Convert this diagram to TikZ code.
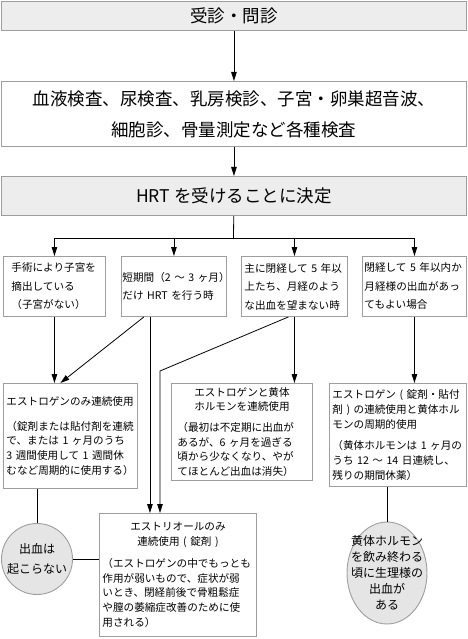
\documentclass[tikz,border=0pt]{standalone}
\usepackage{fontspec}
\setmainfont{Noto Sans CJK JP}
\usepackage{tikz}
\usetikzlibrary{arrows.meta,shapes.geometric}
\definecolor{gOne}{gray}{0.93}
\definecolor{gTwo}{gray}{0.90}
\definecolor{gEdge}{gray}{0.62}
\tikzset{
  bigbox/.style={rectangle, draw=gEdge, line width=0.9pt, anchor=north west, align=center, inner sep=0pt, minimum width=465pt, font=\fontsize{17.5}{31}\selectfont},
  casebox/.style={rectangle, draw=gEdge, line width=0.9pt, anchor=north west, align=left, inner ysep=0pt, minimum height=60pt, font=\fontsize{10.6}{18.5}\selectfont},
  drugbox/.style={rectangle, draw=gEdge, line width=0.9pt, anchor=north west, align=left, inner ysep=0pt, font=\fontsize{10.6}{14.7}\selectfont},
  result/.style={ellipse, draw=gEdge, line width=0.9pt, fill=gTwo, align=center, inner sep=-10pt, font=\fontsize{12}{16}\selectfont},
  arrow/.style={-{Triangle[length=9pt,width=5.5pt]}, line width=0.8pt},
  link/.style={line width=0.8pt}
}
\begin{document}
\begin{tikzpicture}[x=1pt,y=-1pt]
  \useasboundingbox (0,0) rectangle (467,639);
  \node[bigbox, fill=gOne, minimum height=29pt] (visit) at (1,1) {受診・問診};
  \node[bigbox, minimum height=65pt] (tests) at (1,81) {血液検査、尿検査、乳房検診、子宮・卵巣超音波、\\細胞診、骨量測定など各種検査};
  \node[bigbox, fill=gOne, minimum height=39pt] (decide) at (1,176) {HRT を受けることに決定};
  \node[casebox, text width=86pt, inner xsep=8pt] (caseA) at (3,256) {手術により子宮を\\摘出している\\（子宮がない）};
  \node[casebox, text width=103pt, inner xsep=1pt] (caseB) at (121,256) {短期間（2~～~3~ヶ月）\\だけ~HRT~を行う時};
  \node[casebox, text width=100pt, inner xsep=3pt] (caseC) at (241,256) {主に閉経して~5~年以\\上たち、月経のよう\\な出血を望まない時};
  \node[casebox, text width=100pt, inner xsep=2pt] (caseD) at (362,256) {閉経して~5~年以内か\\月経様の出血があっ\\てもよい場合};
  \node[drugbox, text width=128pt, inner xsep=3pt, minimum height=105pt] (estOnly) at (3,383) {エストロゲンのみ連続使用\\[10pt]（錠剤または貼付剤を連続\\で、または~1~ヶ月のうち\\3~週間使用して~1~週間休\\むなど周期的に使用する）};
  \node[drugbox, text width=129pt, inner xsep=6pt, minimum height=97pt] (estProg) at (171,383) {{\centering エストロゲンと黄体\\ホルモンを連続使用\par}\vspace{6pt}（最初は不定期に出血が\\あるが、6~ヶ月を過ぎる\\頃から少なくなり、やが\\てほとんど出血は消失）};
  \node[drugbox, text width=131pt, inner xsep=3pt, minimum height=103pt] (estCyc) at (329,383) {エストロゲン~(~錠剤・貼付\\剤~)~の連続使用と黄体ホル\\モンの周期的使用\\[7pt]（黄体ホルモンは~1~ヶ月の\\うち~12~～~14~日連続し、\\残りの期間休薬）};
  \node[drugbox, text width=151pt, inner xsep=3pt, minimum height=123pt] (estriol) at (99,513) {{\centering エストリオールのみ\\連続使用~(~錠剤~)\par}\vspace{7pt}（エストロゲンの中でもっとも\\作用が弱いもので、症状が弱\\いとき、閉経前後で骨粗鬆症\\や膣の萎縮症改善のために使\\用される）};
  \node[result, minimum width=71pt, minimum height=71pt, font=\fontsize{12}{20}\selectfont] (noBleed) at (37,559) {出血は\\起こらない};
  \node[result, minimum width=80pt, minimum height=102pt] (withBleed) at (387,573) {黄体ホルモン\\を飲み終わる\\頃に生理様の\\出血が\\ある};
  \coordinate (fork) at (233.5,238);
  \coordinate (bend) at (160,371);
  \draw[arrow] (visit) -- (tests);
  \draw[arrow] (tests) -- (decide);
  \draw[link] (decide) -- (fork);
  \draw[arrow] (fork) -| (caseA);
  \draw[arrow] (fork) -| (caseB);
  \draw[arrow] (fork) -| (caseC);
  \draw[arrow] (fork) -| (caseD);
  \draw[arrow] (caseA) -- (caseA |- estOnly.north);
  \draw[arrow] ([xshift=-30pt]caseB.south) -- ([xshift=-10pt]estOnly.north);
  \draw[arrow] ([xshift=-24pt]caseB.south) -- ([xshift=-24pt]caseB.south |- estriol.north);
  \draw[arrow] ([xshift=-6pt]caseC.south) -- (bend) -- (bend |- estriol.north);
  \draw[arrow] (caseC) -- (caseC |- estProg.north);
  \draw[arrow] (caseD) -- (caseD |- estCyc.north);
  \draw[link] (noBleed.north) -- (noBleed.north |- estOnly.south);
  \draw[link] (noBleed) -- (noBleed -| estriol.west);
  \draw[link] (withBleed) -- (withBleed |- estCyc.south);
\end{tikzpicture}
\end{document}
